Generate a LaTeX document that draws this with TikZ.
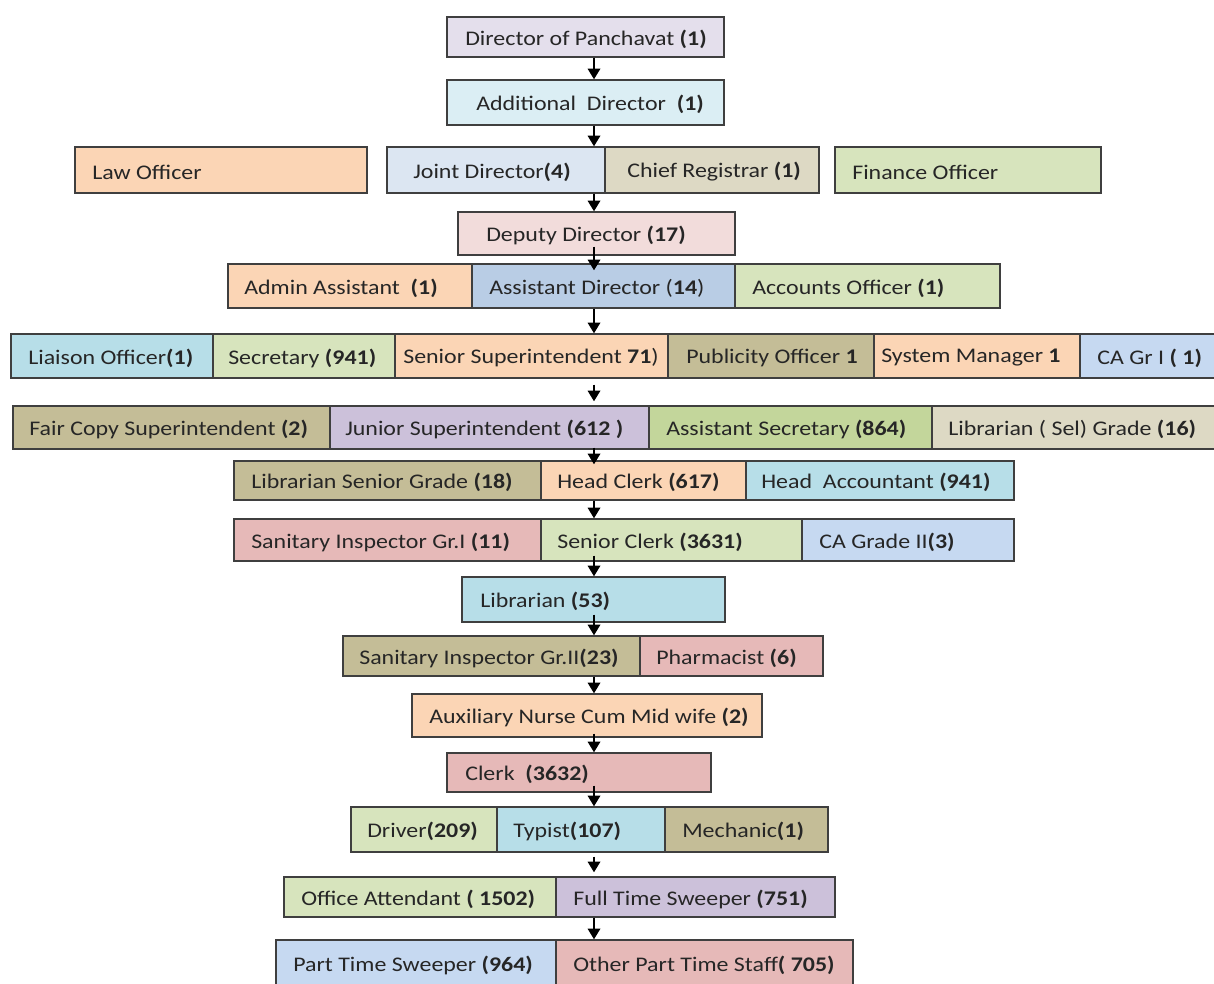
\documentclass[tikz,border=0pt]{standalone}
\usepackage{fontspec}
\setmainfont[FakeStretch=1.15]{Carlito}
\usetikzlibrary{arrows.meta,fit,calc}
\definecolor{bordc}{HTML}{3F3F3F}
\definecolor{txtc}{HTML}{262626}
\definecolor{cLav}{HTML}{E4DFEC}
\definecolor{cLblue}{HTML}{DBEEF4}
\definecolor{cPeach}{HTML}{FBD5B5}
\definecolor{cJD}{HTML}{DCE6F2}
\definecolor{cTan}{HTML}{DDD9C4}
\definecolor{cLgreen}{HTML}{D7E4BD}
\definecolor{cPink}{HTML}{F2DCDB}
\definecolor{cBlue}{HTML}{B9CDE5}
\definecolor{cCyan}{HTML}{B7DEE8}
\definecolor{cKhaki}{HTML}{C4BD97}
\definecolor{cLblueB}{HTML}{C6D9F1}
\definecolor{cLavB}{HTML}{CCC1DA}
\definecolor{cGreen}{HTML}{C3D69B}
\definecolor{cRose}{HTML}{E6B9B8}
\newcommand\obox[8]{%
  \node[orgbox, fill=#6, fit={(#2,#3) (#4,#5)}] (#1) {};
  \node[lbl] (#1-t) at (#7,{(#3+#5)/2+2}) {#8};}
\begin{document}
\begin{tikzpicture}[x=0.75pt,y=-0.75pt,
  orgbox/.style={draw=bordc, line width=1.1pt, inner sep=0pt},
  lbl/.style={anchor=west, inner sep=0pt, font=\fontsize{15.6}{18}\selectfont, text=txtc},
  arr/.style={-{Triangle[length=8pt,width=9.5pt]}, line width=1pt, black}]
\useasboundingbox (0,0) rectangle (1214,984);
\fill[white] (0,0) rectangle (1214,984);
\coordinate (ax) at (594,0);
% row 1-2
\obox{dp}{447}{17}{724}{57}{cLav}{465}{Director of Panchavat \textbf{(1)}}
\obox{adl}{447}{80}{724}{125}{cLblue}{476}{Additional\ \ Director\ \ \textbf{(1)}}
% row 3
\obox{law}{75}{147}{367}{193}{cPeach}{92}{Law Officer}
\obox{jd}{387}{147}{605}{193}{cJD}{413}{Joint Director\textbf{(4)}}
\obox{cr}{605}{147}{819}{193}{cTan}{627}{Chief Registrar \textbf{(1)}}
\obox{fo}{835}{147}{1101}{193}{cLgreen}{852}{Finance Officer}
% row 4
\obox{dd}{458}{212}{735}{255}{cPink}{486}{Deputy Director \textbf{(17)}}
% row 5
\obox{aa}{228}{264}{472}{308}{cPeach}{244}{Admin Assistant\ \ \textbf{(1)}}
\obox{asd}{472}{264}{735}{308}{cBlue}{489}{Assistant Director (\textbf{14})}
\obox{ao}{735}{264}{1000}{308}{cLgreen}{752}{Accounts Officer \textbf{(1)}}
% row 6
\obox{lo}{11}{334}{213}{378}{cCyan}{28}{Liaison Officer\textbf{(1)}}
\obox{sec}{213}{334}{395}{378}{cLgreen}{228}{Secretary \textbf{(941)}}
\obox{ss}{395}{334}{668}{378}{cPeach}{403}{Senior Superintendent \textbf{71})}
\obox{po}{668}{334}{874}{378}{cKhaki}{686}{Publicity Officer \textbf{1}}
\obox{sm}{874}{334}{1080}{378}{cPeach}{881}{System Manager \textbf{1}}
\obox{caa}{1080}{334}{1218}{378}{cLblueB}{1097}{CA Gr I \textbf{( 1)}}
% row 7
\obox{fc}{13}{406}{330}{449}{cKhaki}{29}{Fair Copy Superintendent \textbf{(2)}}
\obox{js}{330}{406}{649}{449}{cLavB}{345}{Junior Superintendent \textbf{(612 )}}
\obox{as}{649}{406}{932}{449}{cGreen}{666}{Assistant Secretary \textbf{(864)}}
\obox{ls}{932}{406}{1218}{449}{cTan}{948}{Librarian ( Sel) Grade \textbf{(16)}}
% row 8
\obox{lsg}{234}{461}{541}{500}{cKhaki}{251}{Librarian Senior Grade \textbf{(18)}}
\obox{hc}{541}{461}{746}{500}{cPeach}{557}{Head Clerk \textbf{(617)}}
\obox{ha}{746}{461}{1014}{500}{cCyan}{761}{Head\ \ Accountant \textbf{(941)}}
% row 9
\obox{sia}{234}{519}{541}{561}{cRose}{251}{Sanitary Inspector Gr.I \textbf{(11)}}
\obox{sc}{541}{519}{802}{561}{cLgreen}{557}{Senior Clerk \textbf{(3631)}}
\obox{cab}{802}{519}{1014}{561}{cLblueB}{819}{CA Grade II\textbf{(3)}}
% row 10
\obox{lib}{462}{577}{725}{622}{cCyan}{480}{Librarian \textbf{(53)}}
% row 11
\obox{sib}{343}{636}{640}{676}{cKhaki}{359}{Sanitary Inspector Gr.II\textbf{(23)}}
\obox{ph}{640}{636}{823}{676}{cRose}{656}{Pharmacist \textbf{(6)}}
% row 12
\obox{anm}{412}{694}{762}{737}{cPeach}{429}{Auxiliary Nurse Cum Mid wife \textbf{(2)}}
% row 13
\obox{clk}{447}{753}{711}{792}{cRose}{465}{Clerk\ \ \textbf{(3632)}}
% row 14
\obox{drv}{351}{807}{497}{852}{cLgreen}{367}{Driver\textbf{(209)}}
\obox{typ}{497}{807}{665}{852}{cCyan}{513}{Typist\textbf{(107)}}
\obox{mec}{665}{807}{828}{852}{cKhaki}{682}{Mechanic\textbf{(1)}}
% row 15
\obox{oa}{284}{877}{556}{917}{cLgreen}{301}{Office Attendant \textbf{( 1502)}}
\obox{fts}{556}{877}{835}{917}{cLavB}{573}{Full Time Sweeper \textbf{(751)}}
% row 16
\obox{pts}{276}{940}{556}{987}{cLblueB}{293}{Part Time Sweeper \textbf{(964)}}
\obox{opt}{556}{940}{853}{987}{cRose}{573}{Other Part Time Staff\textbf{( 705)}}
% arrows
\draw[arr] (dp.south -| ax) -- (adl.north -| ax);
\draw[arr] (adl.south -| ax) -- (jd.north -| ax);
\draw[arr] (jd.south -| ax) -- (dd.north -| ax);
\draw[arr] ($(dd.south -| ax)+(0,-9)$) -- ($(asd.north -| ax)+(0,7)$);
\draw[arr] (asd.south -| ax) -- (ss.north -| ax);
\draw[arr] ($(ss.south -| ax)+(0,6)$) -- ($(js.north -| ax)+(0,-4)$);
\draw[arr] ($(js.south -| ax)+(0,-2)$) -- ($(hc.north -| ax)+(0,4)$);
\draw[arr] (hc.south -| ax) -- (sc.north -| ax);
\draw[arr] ($(sc.south -| ax)+(0,-6)$) -- (lib.north -| ax);
\draw[arr] ($(lib.south -| ax)+(0,-8)$) -- (sib.north -| ax);
\draw[arr] (sib.south -| ax) -- (anm.north -| ax);
\draw[arr] ($(anm.south -| ax)+(0,-4)$) -- (clk.north -| ax);
\draw[arr] ($(clk.south -| ax)+(0,-7)$) -- (typ.north -| ax);
\draw[arr] ($(typ.south -| ax)+(0,4)$) -- ($(fts.north -| ax)+(0,-4)$);
\draw[arr] (fts.south -| ax) -- (opt.north -| ax);
\end{tikzpicture}
\end{document}
